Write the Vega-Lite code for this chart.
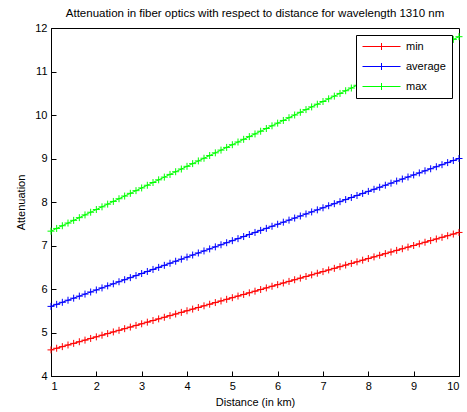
{
  "$schema": "https://vega.github.io/schema/vega-lite/v6.json",
  "width": 408,
  "height": 348,
  "autosize": "none",
  "padding": {"left": 51, "top": 28, "right": 8, "bottom": 36},
  "background": "white",
  "config": {
    "font": "Liberation Sans",
    "view": {"stroke": "black", "strokeWidth": 1},
    "axis": {
      "grid": false,
      "domainColor": "black",
      "tickColor": "black",
      "labelColor": "black",
      "titleColor": "black",
      "labelFontSize": 11,
      "titleFontSize": 11,
      "titleFontWeight": "normal",
      "tickSize": -5,
      "labelPadding": 9,
      "domainWidth": 1
    }
  },
  "title": {
    "text": "Attenuation in fiber optics with respect to distance for wavelength 1310 nm",
    "fontSize": 11.5,
    "fontWeight": "normal",
    "color": "black",
    "anchor": "middle",
    "offset": 3
  },
  "data": {
    "values": [
      {"x": 1, "min": 4.600, "average": 5.600, "max": 7.330},
      {"x": 1.125, "min": 4.638, "average": 5.647, "max": 7.392},
      {"x": 1.25, "min": 4.675, "average": 5.694, "max": 7.454},
      {"x": 1.375, "min": 4.713, "average": 5.742, "max": 7.516},
      {"x": 1.5, "min": 4.750, "average": 5.789, "max": 7.578},
      {"x": 1.625, "min": 4.788, "average": 5.836, "max": 7.640},
      {"x": 1.75, "min": 4.825, "average": 5.883, "max": 7.703},
      {"x": 1.875, "min": 4.863, "average": 5.931, "max": 7.765},
      {"x": 2, "min": 4.900, "average": 5.978, "max": 7.827},
      {"x": 2.125, "min": 4.938, "average": 6.025, "max": 7.889},
      {"x": 2.25, "min": 4.975, "average": 6.072, "max": 7.951},
      {"x": 2.375, "min": 5.013, "average": 6.119, "max": 8.013},
      {"x": 2.5, "min": 5.050, "average": 6.167, "max": 8.075},
      {"x": 2.625, "min": 5.088, "average": 6.214, "max": 8.137},
      {"x": 2.75, "min": 5.125, "average": 6.261, "max": 8.199},
      {"x": 2.875, "min": 5.163, "average": 6.308, "max": 8.261},
      {"x": 3, "min": 5.200, "average": 6.356, "max": 8.323},
      {"x": 3.125, "min": 5.238, "average": 6.403, "max": 8.385},
      {"x": 3.25, "min": 5.275, "average": 6.450, "max": 8.448},
      {"x": 3.375, "min": 5.313, "average": 6.497, "max": 8.510},
      {"x": 3.5, "min": 5.350, "average": 6.544, "max": 8.572},
      {"x": 3.625, "min": 5.388, "average": 6.592, "max": 8.634},
      {"x": 3.75, "min": 5.425, "average": 6.639, "max": 8.696},
      {"x": 3.875, "min": 5.463, "average": 6.686, "max": 8.758},
      {"x": 4, "min": 5.500, "average": 6.733, "max": 8.820},
      {"x": 4.125, "min": 5.538, "average": 6.781, "max": 8.882},
      {"x": 4.25, "min": 5.575, "average": 6.828, "max": 8.944},
      {"x": 4.375, "min": 5.613, "average": 6.875, "max": 9.006},
      {"x": 4.5, "min": 5.650, "average": 6.922, "max": 9.068},
      {"x": 4.625, "min": 5.688, "average": 6.969, "max": 9.130},
      {"x": 4.75, "min": 5.725, "average": 7.017, "max": 9.193},
      {"x": 4.875, "min": 5.763, "average": 7.064, "max": 9.255},
      {"x": 5, "min": 5.800, "average": 7.111, "max": 9.317},
      {"x": 5.125, "min": 5.838, "average": 7.158, "max": 9.379},
      {"x": 5.25, "min": 5.875, "average": 7.206, "max": 9.441},
      {"x": 5.375, "min": 5.913, "average": 7.253, "max": 9.503},
      {"x": 5.5, "min": 5.950, "average": 7.300, "max": 9.565},
      {"x": 5.625, "min": 5.988, "average": 7.347, "max": 9.627},
      {"x": 5.75, "min": 6.025, "average": 7.394, "max": 9.689},
      {"x": 5.875, "min": 6.063, "average": 7.442, "max": 9.751},
      {"x": 6, "min": 6.100, "average": 7.489, "max": 9.813},
      {"x": 6.125, "min": 6.138, "average": 7.536, "max": 9.875},
      {"x": 6.25, "min": 6.175, "average": 7.583, "max": 9.938},
      {"x": 6.375, "min": 6.213, "average": 7.631, "max": 10.000},
      {"x": 6.5, "min": 6.250, "average": 7.678, "max": 10.062},
      {"x": 6.625, "min": 6.288, "average": 7.725, "max": 10.124},
      {"x": 6.75, "min": 6.325, "average": 7.772, "max": 10.186},
      {"x": 6.875, "min": 6.363, "average": 7.819, "max": 10.248},
      {"x": 7, "min": 6.400, "average": 7.867, "max": 10.310},
      {"x": 7.125, "min": 6.438, "average": 7.914, "max": 10.372},
      {"x": 7.25, "min": 6.475, "average": 7.961, "max": 10.434},
      {"x": 7.375, "min": 6.513, "average": 8.008, "max": 10.496},
      {"x": 7.5, "min": 6.550, "average": 8.056, "max": 10.558},
      {"x": 7.625, "min": 6.588, "average": 8.103, "max": 10.620},
      {"x": 7.75, "min": 6.625, "average": 8.150, "max": 10.683},
      {"x": 7.875, "min": 6.663, "average": 8.197, "max": 10.745},
      {"x": 8, "min": 6.700, "average": 8.244, "max": 10.807},
      {"x": 8.125, "min": 6.738, "average": 8.292, "max": 10.869},
      {"x": 8.25, "min": 6.775, "average": 8.339, "max": 10.931},
      {"x": 8.375, "min": 6.813, "average": 8.386, "max": 10.993},
      {"x": 8.5, "min": 6.850, "average": 8.433, "max": 11.055},
      {"x": 8.625, "min": 6.888, "average": 8.481, "max": 11.117},
      {"x": 8.75, "min": 6.925, "average": 8.528, "max": 11.179},
      {"x": 8.875, "min": 6.963, "average": 8.575, "max": 11.241},
      {"x": 9, "min": 7.000, "average": 8.622, "max": 11.303},
      {"x": 9.125, "min": 7.038, "average": 8.669, "max": 11.365},
      {"x": 9.25, "min": 7.075, "average": 8.717, "max": 11.428},
      {"x": 9.375, "min": 7.113, "average": 8.764, "max": 11.490},
      {"x": 9.5, "min": 7.150, "average": 8.811, "max": 11.552},
      {"x": 9.625, "min": 7.188, "average": 8.858, "max": 11.614},
      {"x": 9.75, "min": 7.225, "average": 8.906, "max": 11.676},
      {"x": 9.875, "min": 7.263, "average": 8.953, "max": 11.738},
      {"x": 10, "min": 7.300, "average": 9.000, "max": 11.800}
    ]
  },
  "transform": [{"fold": ["min", "average", "max"], "as": ["series", "value"]}],
  "encoding": {
    "x": {
      "field": "x",
      "type": "quantitative",
      "scale": {"domain": [1, 10], "nice": false, "zero": false},
      "axis": {"title": "Distance (in km)", "values": [1, 2, 3, 4, 5, 6, 7, 8, 9, 10], "titlePadding": 5}
    },
    "y": {
      "field": "value",
      "type": "quantitative",
      "scale": {"domain": [4, 12], "nice": false, "zero": false},
      "axis": {"title": "Attenuation", "values": [4, 5, 6, 7, 8, 9, 10, 11, 12], "titlePadding": 8}
    },
    "color": {
      "field": "series",
      "type": "nominal",
      "sort": ["min", "average", "max"],
      "scale": {"domain": ["min", "average", "max"], "range": ["#ff0000", "#0000ff", "#00ff00"]},
      "legend": {
        "title": null,
        "orient": "none",
        "legendX": 305,
        "legendY": 7,
        "direction": "vertical",
        "symbolType": "M-1,0L6.6,0M2.8,-0.7L2.8,0.7",
        "symbolSize": 100,
        "symbolStrokeWidth": 1,
        "symbolFillColor": "transparent",
        "labelFontSize": 11,
        "labelColor": "black",
        "labelOffset": 33,
        "strokeColor": "black",
        "fillColor": "white",
        "padding": 6,
        "rowPadding": 8
      }
    }
  },
  "layer": [
    {"mark": {"type": "line", "strokeWidth": 1}},
    {"mark": {"type": "point", "shape": "M-1,0L1,0M0,-1L0,1", "filled": false, "size": 49, "strokeWidth": 1, "opacity": 1}}
  ]
}
